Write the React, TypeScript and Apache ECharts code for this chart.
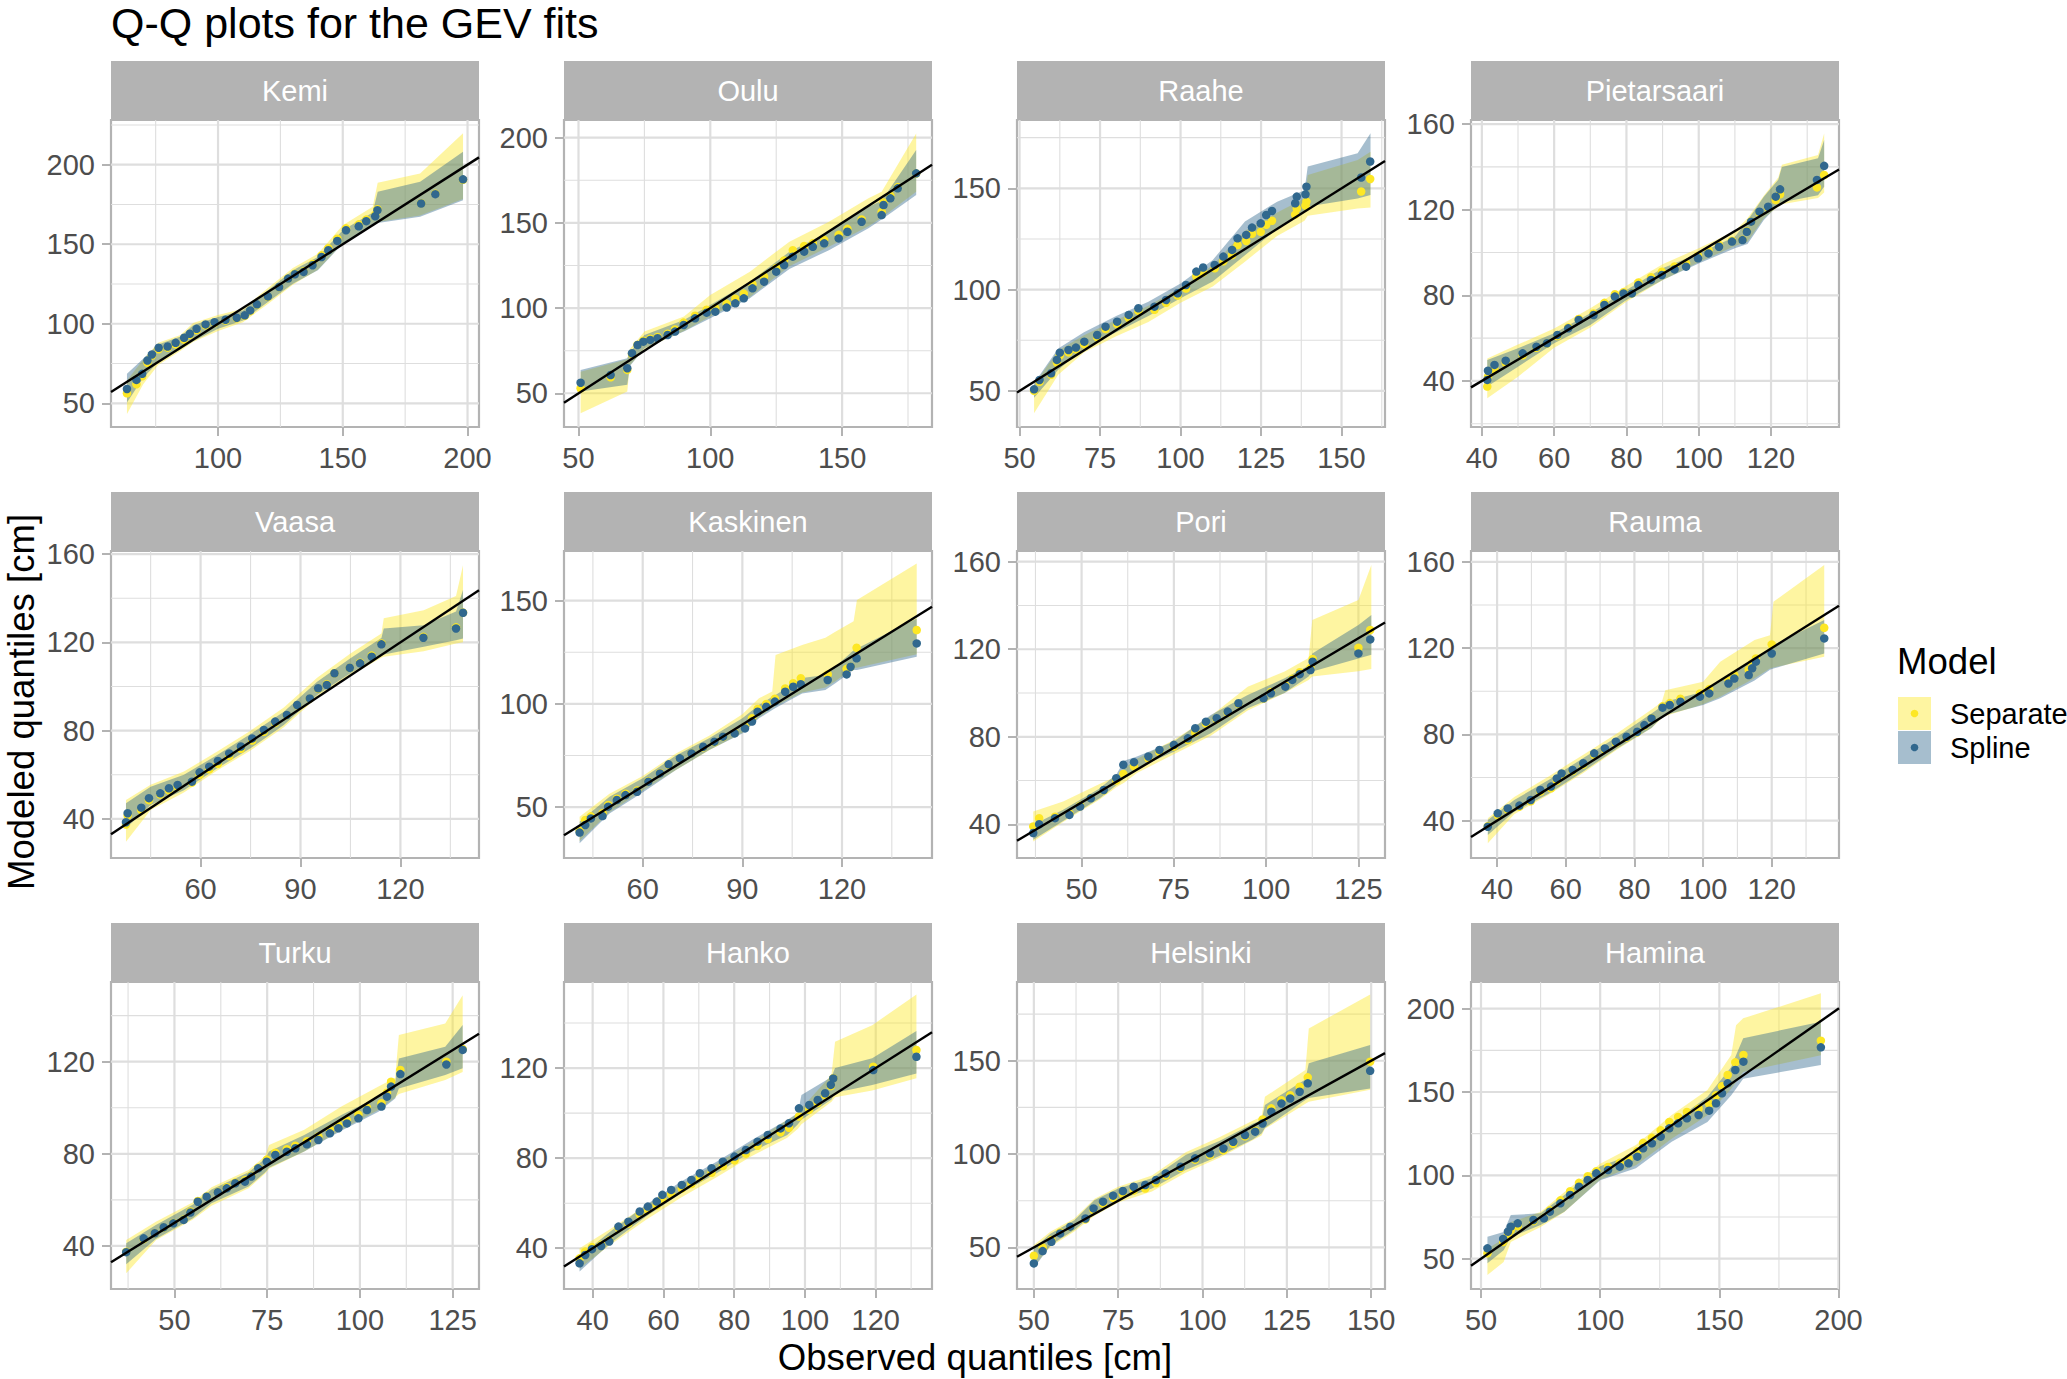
import React, { useEffect, useRef } from "react";
import * as echarts from "echarts";

// ---------------- data ----------------
const stationNames = ["Kemi", "Oulu", "Raahe", "Pietarsaari", "Vaasa", "Kaskinen", "Pori", "Rauma", "Turku", "Hanko", "Helsinki", "Hamina"];

// axis limits per panel
const xLimits = [[57.1, 204.6], [44.5, 184.1], [49.2, 163.5], [37.0, 138.8], [33.1, 143.6], [36.3, 147.1], [32.5, 132.2], [32.4, 139.6], [32.9, 132.1], [31.9, 135.9], [45.0, 154.1], [45.8, 200.2]];
const yLimits = [[35.1, 228.1], [30.2, 210.4], [32.2, 183.7], [18.5, 161.9], [22.3, 161.4], [25.3, 174.1], [24.6, 164.9], [22.7, 165.0], [21.3, 154.6], [21.9, 158.2], [27.7, 192.2], [31.8, 216.0]];
const xTickLabels = [[100, 150, 200], [50, 100, 150], [50, 75, 100, 125, 150], [40, 60, 80, 100, 120], [60, 90, 120], [60, 90, 120], [50, 75, 100, 125], [40, 60, 80, 100, 120], [50, 75, 100, 125], [40, 60, 80, 100, 120], [50, 75, 100, 125, 150], [50, 100, 150, 200]];
const yTickLabels = [[50, 100, 150, 200], [50, 100, 150, 200], [50, 100, 150], [40, 80, 120, 160], [40, 80, 120, 160], [50, 100, 150], [40, 80, 120, 160], [40, 80, 120, 160], [40, 80, 120], [40, 80, 120], [50, 100, 150], [50, 100, 150, 200]];

// Kemi
const kemiObs = [63.5, 67.3, 69.6, 71.7, 73.5, 76.2, 79.8, 83.0, 86.4, 88.7, 91.4, 95.0, 98.6, 103.0, 107.5, 110.7, 112.9, 115.6, 120.0, 124.5, 128.1, 130.8, 134.3, 137.9, 141.5, 144.2, 147.8, 151.3, 156.4, 159.4, 163.0, 163.9, 181.4, 187.1, 198.2];
const kemiSpline = [59.0, 64.7, 68.5, 76.9, 80.7, 84.9, 85.7, 88.0, 91.2, 93.7, 96.8, 99.6, 101.0, 102.5, 103.8, 105.3, 108.4, 112.2, 117.2, 123.1, 128.4, 131.1, 132.6, 136.8, 142.0, 146.2, 152.1, 158.8, 161.3, 164.5, 167.6, 171.4, 175.6, 181.5, 190.8];
const kemiSeparate = [56.3, 62.0, 67.0, 75.5, 80.0, 84.0, 85.0, 87.0, 90.0, 93.0, 96.0, 99.0, 100.5, 102.0, 103.5, 105.0, 108.0, 112.0, 117.0, 123.0, 128.5, 131.5, 133.0, 137.5, 143.0, 147.5, 153.5, 160.0, 162.5, 165.5, 168.5, 172.0, 175.8, 181.8, 190.5];
const kemiBandX = [63.5, 70, 76, 85, 90, 100, 110, 120, 130, 140, 150, 162, 164, 181, 198.2];
const kemiSplLo = [50.5, 66.0, 75.8, 84.0, 89.0, 96.8, 102.1, 113.7, 125.2, 133.6, 150.4, 162.5, 163.4, 167.2, 177.7];
const kemiSplHi = [68.5, 78.0, 87.0, 92.0, 99.0, 104.2, 108.4, 121.0, 133.6, 142.0, 158.8, 170.0, 183.0, 189.3, 208.2];
const kemiSepLo = [43.3, 62.0, 74.0, 83.0, 88.5, 95.5, 101.0, 112.5, 124.5, 134.0, 150.8, 163.0, 164.0, 168.0, 178.5];
const kemiSepHi = [64.3, 77.5, 88.0, 93.0, 100.5, 105.5, 109.5, 122.5, 135.0, 144.0, 162.0, 173.5, 188.7, 194.5, 219.7];

// Oulu
const ouluObs = [50.8, 62.2, 68.5, 70.3, 72.4, 74.6, 77.2, 80.0, 83.8, 86.6, 89.9, 94.2, 98.6, 101.9, 106.2, 109.5, 112.7, 116.0, 120.4, 125.0, 128.0, 131.3, 135.6, 138.9, 143.2, 148.7, 152.0, 157.4, 165.0, 165.7, 168.3, 171.1, 178.1];
const ouluSpline = [56.2, 60.7, 64.7, 73.5, 78.3, 80.3, 81.3, 82.3, 84.2, 86.2, 90.1, 94.0, 97.3, 97.9, 100.3, 102.8, 105.7, 111.6, 115.5, 121.4, 125.3, 130.2, 133.1, 136.0, 138.0, 140.9, 144.8, 150.7, 154.6, 160.5, 164.4, 170.3, 179.1];
const ouluSeparate = [52.9, 59.4, 63.7, 73.0, 78.5, 80.8, 82.0, 83.0, 85.0, 87.5, 91.5, 95.5, 99.0, 100.0, 102.5, 105.5, 108.5, 114.0, 118.5, 123.5, 128.0, 134.0, 136.5, 138.0, 140.0, 143.0, 146.5, 152.0, 156.5, 162.0, 166.0, 171.0, 179.0];
const ouluBandX = [50.8, 68.5, 69.5, 75, 90, 100, 115, 130, 145, 160, 165, 178.1];
const ouluSplLo = [51.0, 55.0, 66.0, 76.4, 86.2, 94.0, 105.7, 123.0, 134.0, 146.8, 152.0, 166.4];
const ouluSplHi = [63.7, 70.5, 74.0, 84.2, 93.0, 101.8, 115.5, 133.0, 144.8, 159.5, 163.0, 192.8];
const ouluSepLo = [38.3, 51.0, 66.5, 76.0, 86.5, 95.0, 106.5, 124.5, 136.0, 148.0, 153.0, 168.3];
const ouluSepHi = [62.7, 70.0, 76.0, 86.2, 95.0, 107.7, 121.4, 139.0, 150.7, 164.4, 168.3, 202.5];

// Raahe
const raaheObs = [54.5, 56.2, 59.8, 61.6, 62.5, 65.2, 67.5, 70.1, 74.1, 76.7, 80.3, 83.9, 86.9, 91.9, 95.5, 99.1, 101.7, 104.9, 107.0, 110.6, 113.3, 116.0, 117.7, 120.4, 122.2, 124.9, 126.6, 128.4, 135.6, 136.1, 138.8, 139.1, 156.1, 158.9];
const raaheSpline = [50.8, 55.4, 58.7, 65.3, 68.9, 70.2, 71.4, 74.3, 77.6, 81.7, 84.2, 87.5, 90.8, 91.6, 94.9, 98.2, 102.3, 108.9, 110.9, 112.2, 116.3, 119.6, 125.3, 127.0, 130.6, 132.7, 136.8, 138.8, 142.6, 145.9, 147.0, 150.8, 155.3, 163.2];
const raaheSeparate = [50.0, 54.5, 58.0, 64.0, 67.5, 69.0, 70.5, 73.0, 76.5, 80.5, 83.0, 86.0, 89.5, 90.0, 93.5, 97.0, 100.5, 106.5, 108.5, 110.5, 114.0, 117.0, 122.0, 124.0, 127.5, 128.5, 132.0, 134.0, 137.0, 140.0, 141.5, 143.4, 148.4, 154.6];
const raaheBandX = [54.5, 62, 70, 80, 90, 100, 110, 120, 130, 138.5, 139.5, 155, 159];
const raaheSplLo = [46.6, 60.4, 71.0, 79.0, 87.0, 95.7, 104.0, 117.0, 130.0, 138.5, 141.0, 145.0, 146.7];
const raaheSplHi = [53.8, 71.0, 79.0, 87.0, 94.0, 103.0, 114.6, 133.6, 143.4, 149.0, 160.7, 167.3, 177.1];
const raaheSepLo = [39.0, 58.0, 69.0, 77.0, 84.0, 93.5, 101.5, 113.8, 126.5, 134.0, 136.5, 140.0, 140.5];
const raaheSepHi = [53.0, 70.0, 77.5, 85.0, 92.0, 101.0, 112.0, 129.0, 138.0, 145.0, 156.6, 164.0, 168.0];

// Pietarsaari
const pietObs = [41.5, 41.7, 43.5, 46.6, 51.3, 55.1, 58.0, 60.9, 63.9, 66.8, 70.9, 73.9, 76.8, 79.2, 81.5, 83.3, 86.8, 89.8, 93.3, 96.5, 99.8, 102.7, 105.6, 109.2, 112.1, 113.3, 114.5, 116.8, 119.2, 121.3, 122.5, 132.7, 134.7];
const pietSpline = [40.5, 44.8, 47.5, 49.5, 52.9, 56.0, 57.6, 61.5, 64.6, 68.5, 70.8, 75.5, 79.4, 80.9, 80.9, 84.8, 87.2, 89.5, 92.1, 93.4, 97.3, 99.6, 102.7, 105.1, 105.8, 109.7, 114.4, 119.1, 121.4, 126.1, 129.5, 133.9, 140.5];
const pietSeparate = [37.4, 42.0, 45.5, 48.5, 52.0, 55.5, 57.5, 61.0, 65.0, 69.0, 71.5, 76.5, 80.5, 81.5, 81.0, 86.0, 88.5, 91.0, 93.5, 95.0, 98.5, 101.0, 103.5, 105.5, 106.0, 110.0, 114.5, 118.5, 121.0, 124.5, 127.2, 130.4, 136.2];
const pietBandX = [41.5, 50, 60, 70, 80, 90, 100, 110, 113.5, 118, 122, 123, 133, 134.7];
const pietSplLo = [37.4, 46.7, 57.6, 66.1, 77.8, 87.2, 94.9, 102.0, 104.0, 115.2, 122.2, 123.5, 126.8, 130.7];
const pietSplHi = [49.8, 55.3, 62.3, 71.6, 82.5, 92.6, 99.6, 107.4, 115.0, 126.1, 134.0, 140.0, 144.0, 152.5];
const pietSepLo = [31.9, 42.0, 55.5, 65.0, 77.0, 87.0, 95.5, 103.0, 105.0, 116.0, 121.5, 122.5, 125.5, 128.0];
const pietSepHi = [50.5, 57.0, 64.5, 74.0, 84.5, 94.5, 102.0, 110.0, 116.0, 126.5, 135.0, 141.0, 145.5, 155.6];

// Vaasa
const vaasaObs = [37.6, 38.1, 42.2, 44.5, 47.9, 50.5, 53.1, 57.4, 59.7, 62.6, 65.2, 68.6, 72.1, 75.5, 79.0, 82.4, 85.9, 89.0, 92.8, 95.3, 97.9, 100.2, 104.8, 107.9, 111.4, 114.3, 126.9, 136.7, 138.8];
const vaasaSpline = [38.5, 42.6, 45.1, 49.4, 51.6, 53.9, 55.4, 56.9, 61.1, 63.7, 66.3, 69.7, 72.8, 76.5, 80.3, 84.1, 87.1, 91.6, 94.6, 99.2, 100.7, 106.0, 108.5, 110.5, 113.5, 119.1, 122.1, 126.3, 133.4];
const vaasaSeparate = [37.5, 41.5, 44.0, 48.5, 51.0, 53.0, 54.5, 56.5, 60.0, 62.5, 65.0, 68.5, 71.8, 75.5, 79.5, 83.5, 87.0, 91.5, 94.5, 99.0, 101.0, 106.0, 108.5, 110.8, 114.0, 119.5, 122.5, 126.8, 133.5];
const vaasaBandX = [37.6, 45, 55, 65, 75, 85, 95, 105, 114.3, 115, 127, 136.7, 138.8];
const vaasaSplLo = [35.8, 46.3, 53.0, 63.0, 72.0, 82.6, 96.2, 106.0, 114.3, 114.5, 118.0, 121.0, 121.8];
const vaasaSplHi = [47.1, 54.6, 60.0, 69.0, 78.5, 88.6, 102.2, 112.8, 122.0, 126.3, 127.8, 134.0, 143.7];
const vaasaSepLo = [29.7, 44.0, 52.0, 62.0, 71.0, 81.5, 95.0, 105.0, 113.0, 113.5, 116.0, 119.5, 120.0];
const vaasaSepHi = [48.6, 55.5, 61.5, 70.5, 80.0, 90.5, 104.0, 115.0, 124.0, 130.9, 134.6, 141.0, 155.0];

// Kaskinen
const kaskObs = [41.0, 42.7, 44.4, 47.9, 49.6, 52.2, 54.8, 58.3, 61.7, 65.2, 67.8, 71.2, 74.7, 78.2, 81.6, 84.2, 87.7, 90.8, 92.9, 94.6, 97.2, 99.8, 102.9, 105.3, 107.6, 115.7, 121.4, 122.6, 124.4, 142.5];
const kaskSpline = [37.6, 41.3, 44.5, 45.6, 50.2, 53.4, 55.8, 57.4, 62.3, 66.3, 70.7, 73.6, 76.0, 79.2, 81.7, 84.1, 85.7, 88.1, 91.4, 96.2, 98.6, 101.1, 105.9, 108.3, 109.5, 111.6, 114.3, 118.0, 122.1, 129.3];
const kaskSeparate = [38.5, 43.7, 45.5, 47.0, 51.0, 54.0, 56.5, 58.0, 62.5, 66.5, 70.5, 73.5, 76.0, 79.0, 81.5, 84.0, 86.0, 89.0, 93.0, 97.5, 100.0, 102.5, 107.5, 110.0, 112.4, 114.3, 117.0, 118.0, 127.2, 135.8];
const kaskBandX = [41, 50, 60, 70, 80, 90, 95, 99, 100, 108, 115, 118, 123.5, 124.5, 142.5];
const kaskSplLo = [32.4, 46.9, 57.0, 67.9, 77.6, 85.7, 93.0, 97.0, 98.0, 105.0, 106.7, 110.0, 116.4, 116.4, 122.9];
const kaskSplHi = [42.9, 55.0, 63.9, 75.0, 83.3, 93.0, 99.4, 103.5, 104.3, 112.5, 114.0, 118.0, 126.0, 126.9, 141.4];
const kaskSepLo = [33.5, 47.5, 58.0, 68.0, 77.5, 86.0, 93.5, 98.0, 99.0, 105.5, 108.0, 111.0, 117.5, 117.5, 124.0];
const kaskSepHi = [45.3, 56.5, 65.0, 76.0, 84.5, 95.0, 102.7, 106.0, 123.7, 128.5, 132.0, 135.0, 140.0, 150.3, 168.0];

// Pori
const poriObs = [36.9, 38.5, 42.8, 46.7, 49.6, 52.5, 56.0, 59.4, 61.3, 64.2, 68.1, 71.1, 75.0, 78.8, 80.8, 83.7, 86.6, 89.6, 92.5, 99.3, 101.3, 105.2, 107.1, 109.1, 112.0, 112.6, 125.0, 128.2];
const poriSpline = [36.0, 40.0, 42.8, 44.3, 48.1, 51.9, 55.7, 61.1, 67.2, 68.4, 71.0, 74.0, 76.3, 79.3, 83.9, 86.9, 88.5, 91.5, 95.3, 97.6, 99.9, 102.9, 106.0, 108.6, 110.5, 114.3, 118.1, 124.5];
const poriSeparate = [39.0, 42.8, 43.5, 45.0, 48.5, 52.0, 55.5, 60.0, 63.0, 66.5, 70.0, 73.0, 75.5, 78.5, 82.0, 86.0, 88.0, 91.0, 95.0, 97.5, 100.5, 103.5, 106.5, 109.5, 111.5, 115.6, 120.7, 128.8];
const poriBandX = [36.9, 45, 55, 59.5, 61.5, 65, 75, 85, 95, 105, 111.5, 112.5, 125, 128.5];
const poriSplLo = [32.9, 41.5, 52.0, 58.0, 61.1, 65.6, 73.2, 81.6, 93.0, 100.0, 107.5, 109.8, 115.8, 117.5];
const poriSplHi = [39.8, 46.6, 56.5, 63.0, 69.0, 71.0, 77.8, 90.0, 99.1, 106.7, 112.5, 118.1, 131.1, 135.6];
const poriSepLo = [32.1, 41.0, 51.5, 57.0, 59.0, 63.5, 72.0, 80.5, 92.0, 100.0, 106.0, 107.5, 110.0, 111.0];
const poriSepHi = [45.8, 50.4, 58.5, 62.0, 65.5, 70.0, 78.5, 89.5, 102.9, 109.8, 116.0, 133.4, 142.5, 158.5];

// Rauma
const raumaObs = [37.3, 40.2, 43.1, 46.5, 49.8, 52.6, 55.7, 57.4, 58.8, 62.0, 65.1, 68.3, 71.4, 74.6, 77.7, 80.8, 82.9, 85.0, 88.2, 90.3, 93.4, 99.1, 101.8, 107.4, 109.1, 113.3, 114.3, 115.4, 120.0, 135.3];
const raumaSpline = [37.2, 43.4, 45.7, 47.0, 49.6, 54.2, 55.8, 59.6, 61.9, 63.5, 66.6, 71.2, 73.5, 76.6, 78.9, 81.2, 84.3, 87.4, 92.4, 93.6, 95.1, 97.5, 99.0, 103.6, 105.9, 107.5, 110.6, 113.7, 117.5, 124.5];
const raumaSeparate = [37.5, 42.5, 45.0, 46.5, 49.0, 53.5, 55.0, 58.5, 61.0, 63.0, 66.0, 70.5, 73.0, 76.0, 78.5, 81.0, 84.0, 87.5, 93.0, 94.5, 96.5, 99.0, 101.0, 105.0, 107.5, 110.0, 113.0, 115.2, 121.7, 129.4];
const raumaBandX = [37.3, 45, 55, 65, 75, 85, 88, 89, 100, 105, 115, 119.5, 120.5, 135.3];
const raumaSplLo = [33.4, 44.1, 52.5, 62.7, 73.5, 83.0, 88.0, 89.0, 93.6, 96.7, 105.0, 110.0, 110.5, 117.5];
const raumaSplHi = [40.3, 49.6, 58.8, 68.9, 78.9, 89.7, 93.0, 95.1, 99.8, 104.4, 115.0, 119.0, 121.4, 133.0];
const raumaSepLo = [29.5, 43.0, 52.0, 62.0, 73.0, 83.0, 87.5, 88.5, 94.0, 97.5, 106.0, 110.5, 111.0, 116.0];
const raumaSepHi = [41.1, 51.0, 60.5, 70.5, 80.5, 91.5, 95.0, 100.5, 104.4, 113.7, 123.7, 126.0, 141.5, 158.5];

// Turku
const turkuObs = [37.0, 41.7, 44.7, 47.1, 49.7, 52.5, 54.3, 56.3, 58.7, 61.7, 64.1, 66.4, 69.0, 70.7, 72.6, 74.9, 77.2, 80.3, 82.6, 85.7, 88.8, 91.9, 94.2, 96.5, 99.6, 101.9, 105.8, 107.3, 108.4, 110.9, 123.3, 127.7];
const turkuSpline = [37.3, 43.3, 45.5, 48.1, 49.8, 51.3, 54.5, 59.2, 61.4, 63.3, 65.0, 67.2, 67.9, 70.1, 73.7, 76.6, 79.5, 80.9, 82.4, 84.1, 86.0, 88.9, 91.1, 93.2, 95.4, 99.0, 100.5, 104.8, 109.2, 114.6, 118.8, 125.1];
const turkuSeparate = [37.5, 43.0, 45.5, 48.0, 50.0, 51.5, 55.0, 59.5, 61.5, 63.5, 65.5, 67.5, 68.5, 70.5, 74.0, 77.5, 80.5, 82.0, 83.5, 85.5, 87.5, 90.5, 92.5, 94.5, 97.0, 100.0, 102.0, 106.5, 111.3, 116.4, 120.0, 125.5];
const turkuBandX = [37, 45, 55, 60, 70, 74.5, 75.5, 85, 95, 105, 109.5, 110.5, 123, 127.7];
const turkuSplLo = [32.0, 43.0, 52.0, 58.5, 65.8, 72.0, 74.0, 81.0, 90.0, 98.3, 104.0, 108.4, 114.2, 117.1];
const turkuSplHi = [41.2, 49.1, 58.0, 64.5, 72.0, 78.0, 81.0, 88.2, 96.9, 104.8, 111.0, 121.4, 126.5, 135.9];
const turkuSepLo = [28.1, 42.5, 51.5, 57.5, 65.0, 71.5, 73.5, 81.0, 90.5, 99.0, 104.5, 106.0, 112.0, 115.5];
const turkuSepHi = [42.6, 50.5, 59.0, 65.5, 73.0, 79.0, 83.8, 90.5, 100.5, 109.2, 113.0, 131.6, 136.6, 148.9];

// Hanko
const hankoObs = [36.3, 37.9, 39.8, 42.4, 44.7, 47.3, 50.1, 53.3, 55.6, 58.1, 59.7, 62.2, 65.2, 67.9, 70.3, 73.6, 76.8, 80.1, 83.3, 86.6, 89.5, 93.1, 95.5, 98.3, 101.2, 103.6, 105.7, 107.3, 108.0, 119.3, 131.5];
const hankoSpline = [33.3, 37.0, 39.6, 41.0, 43.0, 49.6, 51.8, 56.3, 58.5, 60.7, 63.7, 65.9, 68.1, 70.3, 73.3, 75.5, 78.4, 80.7, 83.6, 87.3, 90.3, 93.2, 95.5, 102.1, 103.6, 105.8, 108.8, 112.5, 115.4, 119.1, 125.0];
const hankoSeparate = [35.5, 38.5, 40.5, 41.5, 43.5, 49.0, 51.0, 55.0, 57.0, 59.0, 62.0, 64.0, 66.5, 68.5, 71.5, 73.5, 76.5, 79.0, 82.0, 85.5, 88.5, 91.5, 93.5, 98.5, 101.5, 104.5, 108.0, 112.0, 115.5, 120.6, 128.0];
const hankoBandX = [36.3, 45, 55, 65, 75, 85, 95, 98, 99, 107.5, 108.5, 119, 131.5];
const hankoSplLo = [29.7, 42.2, 54.0, 64.4, 73.3, 82.9, 90.3, 95.0, 97.0, 106.0, 109.0, 112.5, 117.6];
const hankoSplHi = [36.3, 47.4, 59.2, 69.6, 78.4, 88.1, 96.9, 100.0, 108.0, 116.0, 120.0, 124.3, 136.4];
const hankoSepLo = [31.0, 41.5, 52.5, 62.5, 71.5, 81.0, 89.0, 93.0, 95.0, 105.0, 107.0, 110.0, 115.5];
const hankoSepHi = [40.0, 48.5, 59.0, 68.5, 77.5, 87.0, 97.0, 99.5, 102.0, 117.0, 131.7, 139.0, 152.7];

// Helsinki
const helObs = [50.0, 52.6, 55.2, 57.8, 60.8, 65.3, 67.7, 70.5, 73.5, 76.4, 79.6, 83.0, 86.2, 89.1, 93.5, 97.8, 102.2, 106.2, 109.1, 112.6, 115.6, 117.8, 120.4, 123.4, 126.0, 128.8, 131.2, 149.7];
const helSpline = [41.4, 48.0, 53.0, 57.5, 61.1, 65.5, 70.9, 74.5, 77.7, 80.2, 82.5, 83.4, 86.1, 89.6, 93.2, 97.7, 100.4, 103.0, 106.6, 110.2, 112.0, 116.4, 122.7, 127.1, 129.8, 133.4, 137.9, 144.6];
const helSeparate = [45.5, 50.0, 54.0, 58.0, 61.0, 65.0, 70.0, 73.5, 76.5, 78.5, 80.5, 81.5, 84.5, 88.5, 92.5, 97.0, 99.5, 102.0, 105.5, 109.5, 112.5, 118.5, 124.5, 128.9, 131.5, 136.1, 141.1, 149.5];
const helBandX = [50, 55, 62, 68, 75, 85, 95, 105, 115, 117.5, 118.5, 130.5, 131.5, 149.7];
const helSplLo = [38.8, 51.3, 59.3, 68.2, 75.4, 81.6, 91.4, 99.0, 108.0, 111.0, 114.0, 129.0, 130.0, 135.2];
const helSplHi = [49.5, 57.5, 64.6, 75.4, 81.5, 87.0, 99.5, 107.0, 116.4, 118.0, 126.3, 140.0, 148.6, 158.4];
const helSepLo = [40.0, 50.5, 58.5, 67.0, 74.0, 80.0, 90.0, 98.0, 107.5, 110.0, 113.5, 127.0, 128.0, 134.5];
const helSepHi = [51.3, 58.5, 65.5, 76.0, 82.5, 88.5, 101.0, 109.0, 118.0, 120.0, 130.7, 145.0, 167.3, 185.5];

// Hamina
const hamObs = [52.7, 59.3, 61.3, 62.5, 65.4, 72.0, 76.4, 78.9, 83.3, 87.4, 91.1, 94.8, 98.4, 103.3, 108.2, 111.9, 115.6, 118.0, 121.7, 125.4, 129.0, 132.7, 136.4, 141.3, 145.7, 148.6, 151.1, 153.5, 156.7, 160.1, 192.6];
const hamSpline = [56.2, 61.8, 66.2, 69.2, 71.2, 73.2, 74.2, 78.2, 83.2, 88.2, 93.2, 97.2, 101.2, 103.2, 105.2, 107.2, 111.2, 116.2, 119.2, 123.2, 128.2, 131.2, 134.2, 136.2, 138.8, 143.2, 149.2, 155.2, 163.2, 168.2, 176.8];
const hamSeparate = [53.2, 60.0, 64.0, 67.0, 69.5, 72.5, 74.5, 79.0, 85.0, 90.5, 95.5, 99.5, 102.5, 105.0, 107.5, 110.0, 114.5, 119.5, 122.5, 127.0, 132.0, 135.0, 138.0, 140.0, 143.0, 148.0, 153.5, 160.2, 167.8, 172.2, 180.8];
const hamBandX = [52.7, 59.5, 62.5, 75, 85, 100, 115, 130, 145, 155, 157, 160, 192.6];
const hamSplLo = [47.2, 55.0, 63.0, 70.2, 78.2, 97.0, 104.2, 120.2, 132.0, 148.0, 152.0, 158.0, 166.2];
const hamSplHi = [63.2, 66.0, 76.2, 77.2, 88.2, 105.5, 113.2, 131.2, 147.2, 165.0, 172.0, 182.2, 192.2];
const hamSepLo = [40.2, 48.0, 60.0, 69.0, 78.0, 97.5, 106.0, 122.0, 136.0, 152.0, 156.0, 162.0, 172.0];
const hamSepHi = [56.0, 62.0, 72.0, 78.0, 90.0, 107.0, 118.2, 136.2, 151.2, 172.2, 190.0, 194.2, 209.2];

const panelSeries = [
  { obs: kemiObs, spl: kemiSpline, sep: kemiSeparate, bx: kemiBandX, splLo: kemiSplLo, splHi: kemiSplHi, sepLo: kemiSepLo, sepHi: kemiSepHi },
  { obs: ouluObs, spl: ouluSpline, sep: ouluSeparate, bx: ouluBandX, splLo: ouluSplLo, splHi: ouluSplHi, sepLo: ouluSepLo, sepHi: ouluSepHi },
  { obs: raaheObs, spl: raaheSpline, sep: raaheSeparate, bx: raaheBandX, splLo: raaheSplLo, splHi: raaheSplHi, sepLo: raaheSepLo, sepHi: raaheSepHi },
  { obs: pietObs, spl: pietSpline, sep: pietSeparate, bx: pietBandX, splLo: pietSplLo, splHi: pietSplHi, sepLo: pietSepLo, sepHi: pietSepHi },
  { obs: vaasaObs, spl: vaasaSpline, sep: vaasaSeparate, bx: vaasaBandX, splLo: vaasaSplLo, splHi: vaasaSplHi, sepLo: vaasaSepLo, sepHi: vaasaSepHi },
  { obs: kaskObs, spl: kaskSpline, sep: kaskSeparate, bx: kaskBandX, splLo: kaskSplLo, splHi: kaskSplHi, sepLo: kaskSepLo, sepHi: kaskSepHi },
  { obs: poriObs, spl: poriSpline, sep: poriSeparate, bx: poriBandX, splLo: poriSplLo, splHi: poriSplHi, sepLo: poriSepLo, sepHi: poriSepHi },
  { obs: raumaObs, spl: raumaSpline, sep: raumaSeparate, bx: raumaBandX, splLo: raumaSplLo, splHi: raumaSplHi, sepLo: raumaSepLo, sepHi: raumaSepHi },
  { obs: turkuObs, spl: turkuSpline, sep: turkuSeparate, bx: turkuBandX, splLo: turkuSplLo, splHi: turkuSplHi, sepLo: turkuSepLo, sepHi: turkuSepHi },
  { obs: hankoObs, spl: hankoSpline, sep: hankoSeparate, bx: hankoBandX, splLo: hankoSplLo, splHi: hankoSplHi, sepLo: hankoSepLo, sepHi: hankoSepHi },
  { obs: helObs, spl: helSpline, sep: helSeparate, bx: helBandX, splLo: helSplLo, splHi: helSplHi, sepLo: helSepLo, sepHi: helSepHi },
  { obs: hamObs, spl: hamSpline, sep: hamSeparate, bx: hamBandX, splLo: hamSplLo, splHi: hamSplHi, sepLo: hamSepLo, sepHi: hamSepHi },
];

// ---------------- layout & style ----------------
const FONT = "'Liberation Sans', Arial, Helvetica, sans-serif";
const COL_LEFT = [111, 564, 1017, 1471];
const ROW_TOP = [120, 551, 982];
const PANEL_W = 368;
const PANEL_H = 307;
const STRIP_H = 59;
const SEP_COLOR = "#FDE725";
const SPL_COLOR = "#31688E";
const SEP_FILL = "rgba(253,231,37,0.43)";
const SPL_FILL = "rgba(49,104,142,0.43)";
const GRID_COLOR = "#DEDEDE";
const BORDER_COLOR = "#B3B3B3";

function minorBreaks(major: number[], lim: number[]) {
  const step = major[1] - major[0];
  const all = [major[0] - step, ...major, major[major.length - 1] + step];
  const out: number[] = [];
  for (let i = 0; i < all.length - 1; i++) {
    const m = (all[i] + all[i + 1]) / 2;
    if (m > lim[0] && m < lim[1]) out.push(m);
  }
  return out;
}

function buildOption() {
  const grids: any[] = [];
  const xAxes: any[] = [];
  const yAxes: any[] = [];
  const series: any[] = [];
  const graphics: any[] = [];

  stationNames.forEach((name, i) => {
    const col = i % 4;
    const row = Math.floor(i / 4);
    const left = COL_LEFT[col];
    const top = ROW_TOP[row];
    const xl = xLimits[i];
    const yl = yLimits[i];
    const xt = xTickLabels[i];
    const yt = yTickLabels[i];
    const xMinor = minorBreaks(xt, xl);
    const yMinor = minorBreaks(yt, yl);
    const d = panelSeries[i];

    grids.push({
      left, top, width: PANEL_W, height: PANEL_H,
      show: true, borderColor: BORDER_COLOR, borderWidth: 2.2, backgroundColor: "#FFFFFF",
      containLabel: false, outerBoundsMode: "none",
    });

    const axisCommon = (ticks: number[]) => ({
      type: "value",
      gridIndex: i,
      splitLine: { show: false },
      minorSplitLine: { show: false },
      axisLine: { show: false, onZero: false },
      axisTick: { show: true, customValues: ticks, length: 9, lineStyle: { color: BORDER_COLOR, width: 2 } },
      axisLabel: { show: true, customValues: ticks, margin: 16, color: "#4D4D4D", fontSize: 29, fontFamily: FONT },
    });
    xAxes.push({ ...axisCommon(xt), position: "bottom", min: xl[0], max: xl[1] });
    yAxes.push({ ...axisCommon(yt), position: "left", min: yl[0], max: yl[1] });

    // grid lines
    series.push({
      type: "custom", xAxisIndex: i, yAxisIndex: i, z: 1, silent: true, clip: true,
      data: [[xl[0], yl[0]]],
      renderItem: (_p: any, api: any) => {
        const children: any[] = [];
        const vline = (v: number, w: number) => {
          const a = api.coord([v, yl[0]]);
          const b = api.coord([v, yl[1]]);
          children.push({ type: "line", shape: { x1: a[0], y1: a[1], x2: b[0], y2: b[1] }, style: { stroke: GRID_COLOR, lineWidth: w } });
        };
        const hline = (v: number, w: number) => {
          const a = api.coord([xl[0], v]);
          const b = api.coord([xl[1], v]);
          children.push({ type: "line", shape: { x1: a[0], y1: a[1], x2: b[0], y2: b[1] }, style: { stroke: GRID_COLOR, lineWidth: w } });
        };
        xMinor.forEach((v) => vline(v, 1.1));
        yMinor.forEach((v) => hline(v, 1.1));
        xt.forEach((v) => vline(v, 2.2));
        yt.forEach((v) => hline(v, 2.2));
        return { type: "group", children };
      },
    });

    const band = (lo: number[], hi: number[], fill: string, z: number) => ({
      type: "custom", xAxisIndex: i, yAxisIndex: i, z, silent: true, clip: true,
      data: [[d.bx[0], lo[0]]],
      renderItem: (_p: any, api: any) => {
        const pts: number[][] = [];
        for (let k = 0; k < d.bx.length; k++) pts.push(api.coord([d.bx[k], lo[k]]));
        for (let k = d.bx.length - 1; k >= 0; k--) pts.push(api.coord([d.bx[k], hi[k]]));
        return { type: "polygon", shape: { points: pts }, style: { fill, lineWidth: 0 } };
      },
    });
    series.push(band(d.sepLo, d.sepHi, SEP_FILL, 2));
    series.push(band(d.splLo, d.splHi, SPL_FILL, 2));

    series.push({
      type: "scatter", xAxisIndex: i, yAxisIndex: i, z: 3, silent: true,
      symbol: "circle", symbolSize: 8.5,
      itemStyle: { color: SEP_COLOR, opacity: 1 },
      data: d.obs.map((x, k) => [x, d.sep[k]]),
    });
    series.push({
      type: "scatter", xAxisIndex: i, yAxisIndex: i, z: 3, silent: true,
      symbol: "circle", symbolSize: 8.5,
      itemStyle: { color: SPL_COLOR, opacity: 1 },
      data: d.obs.map((x, k) => [x, d.spl[k]]),
    });
    series.push({
      type: "line", xAxisIndex: i, yAxisIndex: i, z: 4, silent: true,
      symbol: "none", showSymbol: false, clip: true,
      lineStyle: { color: "#000000", width: 2.4 },
      data: [[xl[0], xl[0]], [xl[1], xl[1]]],
    });

    // strip
    graphics.push({
      type: "rect", silent: true,
      shape: { x: left, y: top - STRIP_H, width: PANEL_W, height: STRIP_H },
      style: { fill: "#B3B3B3" },
    });
    graphics.push({
      type: "text", silent: true, x: left + PANEL_W / 2, y: top - STRIP_H / 2,
      style: { text: name, fill: "#FFFFFF", fontSize: 29, fontFamily: FONT, textAlign: "center", textVerticalAlign: "middle", verticalAlign: "middle" },
    });
  });

  // title & axis titles
  graphics.push({
    type: "text", silent: true, x: 111, y: 23,
    style: { text: "Q-Q plots for the GEV fits", fill: "#000000", fontSize: 43, fontFamily: FONT, textAlign: "left", textVerticalAlign: "middle", verticalAlign: "middle" },
  });
  graphics.push({
    type: "text", silent: true, x: 975, y: 1357,
    style: { text: "Observed quantiles [cm]", fill: "#000000", fontSize: 36.6, fontFamily: FONT, textAlign: "center", textVerticalAlign: "middle", verticalAlign: "middle" },
  });
  graphics.push({
    type: "text", silent: true, x: 21, y: 702, rotation: Math.PI / 2,
    style: { text: "Modeled quantiles [cm]", fill: "#000000", fontSize: 36.6, fontFamily: FONT, textAlign: "center", textVerticalAlign: "middle", verticalAlign: "middle" },
  });

  // legend
  graphics.push({
    type: "text", silent: true, x: 1897, y: 661,
    style: { text: "Model", fill: "#000000", fontSize: 36.6, fontFamily: FONT, textAlign: "left", textVerticalAlign: "middle", verticalAlign: "middle" },
  });
  const legendItems = [
    { label: "Separate", fill: SEP_FILL, color: SEP_COLOR, y: 697 },
    { label: "Spline", fill: SPL_FILL, color: SPL_COLOR, y: 731 },
  ];
  legendItems.forEach((it) => {
    graphics.push({ type: "rect", silent: true, shape: { x: 1898, y: it.y, width: 33, height: 33 }, style: { fill: it.fill } });
    graphics.push({ type: "circle", silent: true, shape: { cx: 1914.5, cy: it.y + 16.5, r: 3.8 }, style: { fill: it.color } });
    graphics.push({
      type: "text", silent: true, x: 1950, y: it.y + 16.5,
      style: { text: it.label, fill: "#000000", fontSize: 29, fontFamily: FONT, textAlign: "left", textVerticalAlign: "middle", verticalAlign: "middle" },
    });
  });

  return {
    animation: false,
    backgroundColor: "#FFFFFF",
    textStyle: { fontFamily: FONT },
    grid: grids,
    xAxis: xAxes,
    yAxis: yAxes,
    series,
    graphic: { elements: graphics },
  };
}

export default function App() {
  const ref = useRef<HTMLDivElement>(null);
  useEffect(() => {
    document.body.style.margin = "0";
    document.body.style.overflow = "hidden";
    if (!ref.current) return;
    const chart = echarts.init(ref.current, null, { renderer: "svg" });
    chart.setOption(buildOption() as any);
    return () => chart.dispose();
  }, []);
  return <div ref={ref} style={{ width: "2067px", height: "1379px", background: "#fff" }} />;
}
